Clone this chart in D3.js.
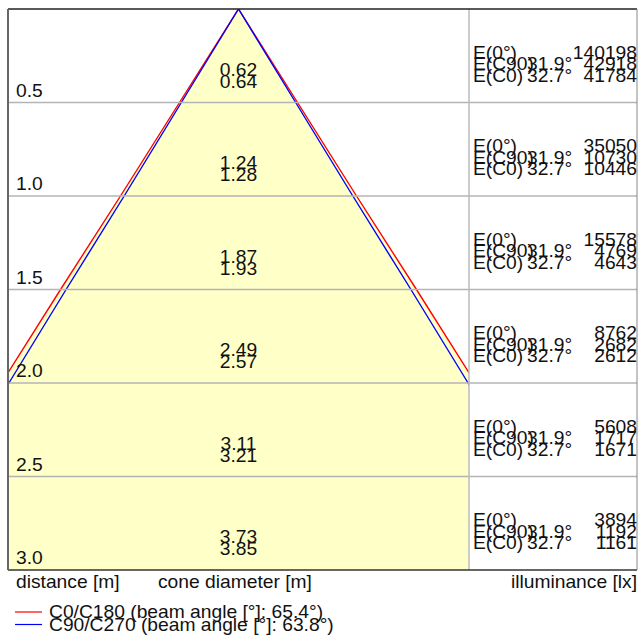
<!DOCTYPE html>
<html>
<head>
<meta charset="utf-8">
<script src="https://cdn.jsdelivr.net/npm/d3@7"></script>
<style>
  body { margin: 0; background: #fff; }
  text { font-family: "Liberation Sans", Arial, sans-serif; fill: #111; }
</style>
</head>
<body>
<svg id="chart" width="644" height="644"></svg>
<script>
// distances [m] and cone diameters [m]
var distances = [0.5, 1.0, 1.5, 2.0, 2.5, 3.0]
var diamC90 = [0.62, 1.24, 1.87, 2.49, 3.11, 3.73]
var diamC0 = [0.64, 1.28, 1.93, 2.57, 3.21, 3.85]
// illuminance [lx]
var illumE0 = [140198, 35050, 15578, 8762, 5608, 3894]
var illumC90 = [42918, 10730, 4769, 2682, 1717, 1192]
var illumC0 = [41784, 10446, 4643, 2612, 1671, 1161]
var halfAngles = ['31.9°', '32.7°']
var legendItems = [
  { name: 'C0/C180 (beam angle [°]: 65.4°)', color: '#ff0000' },
  { name: 'C90/C270 (beam angle [°]: 63.8°)', color: '#0000ff' }
]

var fontSize = 17.5, sx = 1.1
var pLeft = 8, pMid = 469, pRight = 637, pTop = 9, pBottom = 570

var svg = d3.select('#chart')

var y = d3.scaleLinear().domain([0, 3]).range([pTop, pBottom])
var x = d3.scaleLinear().domain([-1.25, 1.25]).range([pLeft, pMid])

function addText(g, txt, px, py, anchor) {
  return g.append('text')
    .attr('transform', 'translate(' + px + ',' + py + ') scale(' + sx + ',1)')
    .attr('text-anchor', anchor || 'start')
    .style('font-size', fontSize + 'px')
    .text(txt)
}

svg.append('defs').append('clipPath').attr('id', 'leftClip')
  .append('rect')
  .attr('x', pLeft).attr('y', pTop)
  .attr('width', pMid - pLeft).attr('height', pBottom - pTop)

// cone points from data (apex + each distance)
function conePts(diams, side) {
  var pts = [[0, 0]]
  distances.forEach((d, i) => pts.push([side * diams[i] / 2, d]))
  return pts
}

var line = d3.line().x(p => x(p[0])).y(p => y(p[1]))

var cone = svg.append('g').attr('clip-path', 'url(#leftClip)')

// fill: area of the wider cone
var fillPts = conePts(diamC0, -1).reverse().concat(conePts(diamC0, 1).slice(1))
cone.append('path')
  .attr('d', line(fillPts) + 'Z')
  .attr('fill', '#ffffc8')

// row grid lines
svg.selectAll('.rowline')
  .data(distances.slice(0, -1))
  .enter().append('line')
  .attr('x1', pLeft).attr('x2', pRight)
  .attr('y1', d => y(d)).attr('y2', d => y(d))
  .attr('stroke', '#b4b4b4').attr('stroke-width', 1.3)

// cone edges
;[[diamC0, '#ff0000'], [diamC90, '#0000ff']].forEach(s => {
  ;[-1, 1].forEach(side => {
    cone.append('path')
      .attr('d', line(conePts(s[0], side)))
      .attr('fill', 'none')
      .attr('stroke', s[1])
      .attr('stroke-width', 1.4)
  })
})

// panel divider and frame
svg.append('line')
  .attr('x1', pMid).attr('x2', pMid).attr('y1', pTop).attr('y2', pBottom)
  .attr('stroke', '#bbb').attr('stroke-width', 1.5)
svg.append('line')
  .attr('x1', pLeft).attr('x2', pRight).attr('y1', pTop).attr('y2', pTop)
  .attr('stroke', '#222').attr('stroke-width', 1.3)
svg.append('line')
  .attr('x1', pLeft).attr('x2', pRight).attr('y1', pBottom).attr('y2', pBottom)
  .attr('stroke', '#333').attr('stroke-width', 1.3)
svg.append('line')
  .attr('x1', pLeft).attr('x2', pLeft).attr('y1', pTop).attr('y2', pBottom)
  .attr('stroke', '#666').attr('stroke-width', 2)
svg.append('line')
  .attr('x1', pRight).attr('x2', pRight).attr('y1', pTop).attr('y2', pBottom)
  .attr('stroke', '#888').attr('stroke-width', 1)

var labels = svg.append('g')
distances.forEach((d, i) => {
  var yb = y(d)
  addText(labels, d.toFixed(1), 16, yb - 6)
  addText(labels, diamC90[i].toFixed(2), x(0), yb - 27, 'middle')
  addText(labels, diamC0[i].toFixed(2), x(0), yb - 15, 'middle')

  addText(labels, 'E(0°)', 473, yb - 44)
  addText(labels, illumE0[i], pRight, yb - 44, 'end')
  addText(labels, 'E(C90)', 473, yb - 32.5)
  addText(labels, halfAngles[0], 527, yb - 32.5)
  addText(labels, illumC90[i], pRight, yb - 32.5, 'end')
  addText(labels, 'E(C0)', 473, yb - 21)
  addText(labels, halfAngles[1], 527, yb - 21)
  addText(labels, illumC0[i], pRight, yb - 21, 'end')
})

// footer titles
addText(svg, 'distance [m]', 16, 588)
addText(svg, 'cone diameter [m]', 158, 588)
addText(svg, 'illuminance [lx]', pRight, 588, 'end')

// legend
var leg = svg.append('g')
legendItems.forEach((it, i) => {
  var ly = 612 + i * 12.5
  leg.append('line')
    .attr('x1', 15).attr('x2', 42).attr('y1', ly).attr('y2', ly)
    .attr('stroke', it.color).attr('stroke-width', 1.2)
  addText(leg, it.name, 49, ly + 6)
})
</script>
</body>
</html>
